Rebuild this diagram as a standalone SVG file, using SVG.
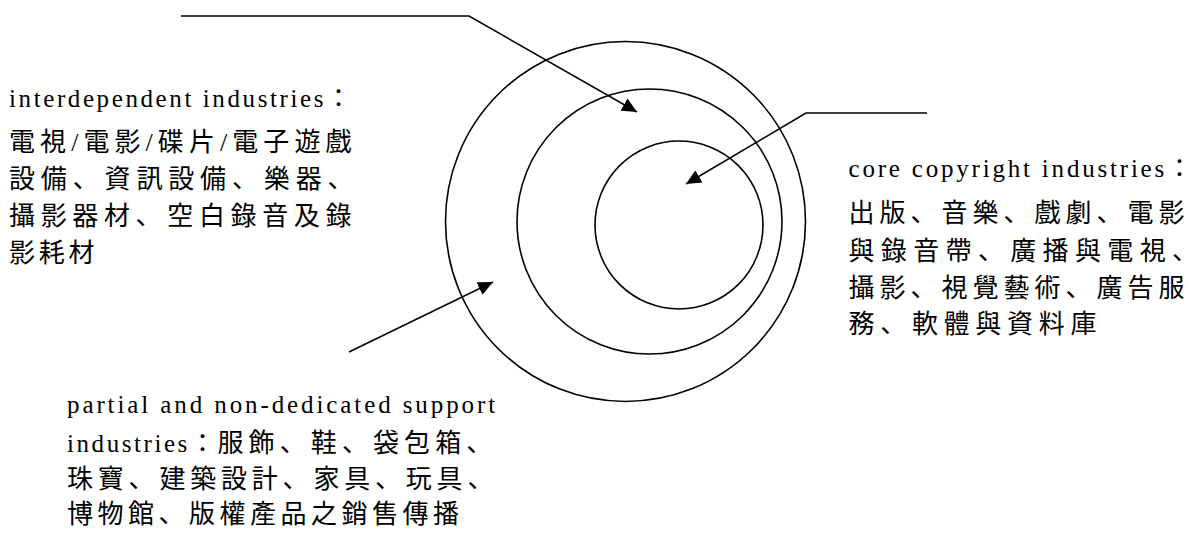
<svg xmlns="http://www.w3.org/2000/svg" width="1191" height="533" viewBox="0 0 1191 533">
<style>
.ring{fill:none;stroke:#000;stroke-width:1.6}
.conn{fill:none;stroke:#000;stroke-width:1.5}
text{font-family:'Liberation Serif','Noto Sans CJK JP',serif;fill:#000}
.en{font-size:25px}
.zh{font-size:26px}
</style>
<defs>
<marker id="ah" markerWidth="16" markerHeight="14" refX="15" refY="7" orient="auto" markerUnits="userSpaceOnUse">
<path d="M0,0 L15,7 L0,14 z" fill="#000"/>
</marker>
</defs>
<rect width="1191" height="533" fill="#fff"/>
<g id="ring-outer"><circle class="ring" cx="625.5" cy="221.5" r="180"/></g>
<g id="ring-middle"><circle class="ring" cx="649.5" cy="221.5" r="132.5"/></g>
<g id="ring-inner"><circle class="ring" cx="679" cy="225" r="84"/></g>
<g id="connectors">
<polyline class="conn" points="181,16 469,16 637,112" marker-end="url(#ah)"/>
<polyline class="conn" points="927,113 806,113 686,184" marker-end="url(#ah)"/>
<line class="conn" x1="349" y1="352" x2="493" y2="282" marker-end="url(#ah)"/>
</g>
<g id="label-interdependent">
<text class="en" x="9" y="107" letter-spacing="2.6">interdependent industries：</text>
<text class="zh" x="9" y="151" letter-spacing="5.07">電視/電影/碟片/電子遊戲</text>
<text class="zh" x="9" y="188" letter-spacing="5.85">設備、資訊設備、樂器、</text>
<text class="zh" x="9" y="225" letter-spacing="5.65">攝影器材、空白錄音及錄</text>
<text class="zh" x="9" y="261.5" letter-spacing="3.7">影耗材</text>
</g>
<g id="label-core">
<text class="en" x="848.5" y="177" letter-spacing="2.8">core copyright industries：</text>
<text class="zh" x="848.5" y="221.5" letter-spacing="5">出版、音樂、戲劇、電影</text>
<text class="zh" x="848.5" y="260" letter-spacing="6.35">與錄音帶、廣播與電視、</text>
<text class="zh" x="848.5" y="296.5" letter-spacing="5">攝影、視覺藝術、廣告服</text>
<text class="zh" x="848.5" y="333" letter-spacing="5.7">務、軟體與資料庫</text>
</g>
<g id="label-partial">
<text class="en" x="67" y="412.5" letter-spacing="2.9">partial and non-dedicated support</text>
<text x="67" y="451.5"><tspan class="en" letter-spacing="2.57">industries：</tspan><tspan class="zh" letter-spacing="5.1">服飾、鞋、袋包箱、</tspan></text>
<text class="zh" x="67" y="488" letter-spacing="4.8">珠寶、建築設計、家具、玩具、</text>
<text class="zh" x="67" y="523" letter-spacing="4.5">博物館、版權產品之銷售傳播</text>
</g>
</svg>
